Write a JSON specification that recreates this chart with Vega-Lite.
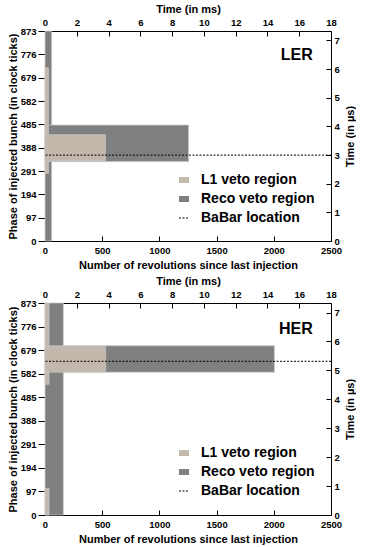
{
  "$schema": "https://vega.github.io/schema/vega-lite/v6.json",
  "padding": {"left": 7, "top": 3, "right": 0, "bottom": 0},
  "background": "white",
  "config": {
    "view": {"stroke": null},
    "font": "Liberation Sans",
    "axis": {
      "grid": false, "domainColor": "black", "domainWidth": 1, "tickColor": "black", "tickWidth": 1,
      "labelFont": "Liberation Sans", "labelFontWeight": "bold", "labelFontSize": 9.5, "labelColor": "black",
      "titleFont": "Liberation Sans", "titleFontWeight": "bold", "titleFontSize": 11, "titleColor": "black",
      "labelFlush": false, "labelOverlap": false, "format": "d"
    },
    "legend": {
      "title": null, "orient": "none", "padding": 0,
      "labelFont": "Liberation Sans", "labelFontSize": 14, "labelFontWeight": "bold", "labelColor": "black",
      "rowPadding": 5, "labelOffset": 10, "symbolStrokeWidth": 1
    }
  },
  "spacing": 4,
  "resolve": {"scale": {"color": "independent", "strokeDash": "independent"}, "legend": {"color": "independent", "strokeDash": "independent"}},
  "vconcat": [
    {
      "width": 286, "height": 210,
      "layer": [
        {
          "layer": [
            {
              "data": {"values": [
                {"region": "Reco veto region", "x0": 0, "x1": 58, "p0": 0, "p1": 873},
                {"region": "Reco veto region", "x0": 0, "x1": 1255, "p0": 330, "p1": 482},
                {"region": "L1 veto region", "x0": 0, "x1": 30, "p0": 281, "p1": 720},
                {"region": "L1 veto region", "x0": 0, "x1": 528, "p0": 333, "p1": 442}
              ]},
              "mark": {"type": "rect", "stroke": "#c8c8c8", "strokeWidth": 0.7, "opacity": 1},
              "encoding": {
                "x": {"field": "x0", "type": "quantitative", "scale": {"domain": [0, 2500], "nice": false},
                  "axis": {"orient": "bottom", "values": [0, 500, 1000, 1500, 2000, 2500], "tickCount": 30, "format": "d", "labelOverlap": false, "tickSize": -5, "labelPadding": 9, "title": "Number of revolutions since last injection", "titlePadding": 5}},
                "x2": {"field": "x1"},
                "y": {"field": "p0", "type": "quantitative", "scale": {"domain": [0, 873], "nice": false},
                  "axis": {"orient": "left", "values": [0, 97, 194, 291, 388, 485, 582, 679, 776, 873], "tickCount": 30, "format": "d", "labelOverlap": false, "tickSize": 7, "labelPadding": 2, "title": "Phase of injected bunch (in clock ticks)", "titlePadding": 2}},
                "y2": {"field": "p1"},
                "color": {"field": "region", "type": "nominal",
                  "scale": {"domain": ["L1 veto region", "Reco veto region"], "range": ["#c4b8ac", "#808080"]},
                  "legend": {"legendX": 132, "legendY": 142, "symbolSize": 100, "symbolType": "M-1,-0.6H1V0.6H-1Z", "symbolStrokeColor": "transparent"}}
              }
            },
            {
              "data": {"values": [{"region": "BaBar location", "p": 357}]},
              "mark": {"type": "rule", "strokeWidth": 1, "color": "black"},
              "encoding": {
                "y": {"field": "p", "type": "quantitative"},
                "strokeDash": {"field": "region", "type": "nominal",
                  "scale": {"domain": ["BaBar location"], "range": [[2, 1.5]]},
                  "legend": {"legendX": 132, "legendY": 180, "symbolSize": 100, "symbolType": "M-1,0H1", "symbolStrokeColor": "black", "symbolFillColor": "transparent"}}
              }
            },
            {
              "data": {"values": [{"label": "LER"}]},
              "mark": {"type": "text", "align": "right", "baseline": "alphabetic", "fontSize": 16, "fontWeight": "bold", "font": "Liberation Sans", "color": "black"},
              "encoding": {
                "text": {"field": "label"},
                "x": {"datum": 2340, "type": "quantitative"},
                "y": {"datum": 752, "type": "quantitative"}
              }
            }
          ]
        },
        {
          "data": {"values": [{"ms": 0, "us": 0}, {"ms": 18, "us": 7.33}]},
          "mark": {"type": "point", "opacity": 0},
          "encoding": {
            "x": {"field": "ms", "type": "quantitative", "scale": {"domain": [0, 18], "nice": false},
              "axis": {"orient": "top", "values": [0, 2, 4, 6, 8, 10, 12, 14, 16, 18], "tickCount": 30, "labelOverlap": false, "tickSize": -5, "labelPadding": 9, "title": "Time (in ms)", "titlePadding": 3}},
            "y": {"field": "us", "type": "quantitative", "scale": {"domain": [0, 7.33], "nice": false},
              "axis": {"orient": "right", "values": [0, 1, 2, 3, 4, 5, 6, 7], "tickCount": 30, "labelOverlap": false, "tickSize": -5, "labelPadding": 8, "title": "Time (in µs)", "titleAngle": -90, "titleBaseline": "top", "titlePadding": 5}}
          }
        }
      ],
      "resolve": {"scale": {"x": "independent", "y": "independent"}}
    },
    {
      "width": 286, "height": 212,
      "layer": [
        {
          "layer": [
            {
              "data": {"values": [
                {"region": "Reco veto region", "x0": 0, "x1": 160, "p0": 0, "p1": 873},
                {"region": "Reco veto region", "x0": 0, "x1": 2005, "p0": 588, "p1": 697},
                {"region": "L1 veto region", "x0": 0, "x1": 35, "p0": 538, "p1": 873},
                {"region": "L1 veto region", "x0": 0, "x1": 35, "p0": 0, "p1": 110},
                {"region": "L1 veto region", "x0": 0, "x1": 530, "p0": 590, "p1": 695}
              ]},
              "mark": {"type": "rect", "stroke": "#c8c8c8", "strokeWidth": 0.7, "opacity": 1},
              "encoding": {
                "x": {"field": "x0", "type": "quantitative", "scale": {"domain": [0, 2500], "nice": false},
                  "axis": {"orient": "bottom", "values": [0, 500, 1000, 1500, 2000, 2500], "tickCount": 30, "format": "d", "labelOverlap": false, "tickSize": -5, "labelPadding": 9, "title": "Number of revolutions since last injection", "titlePadding": 5}},
                "x2": {"field": "x1"},
                "y": {"field": "p0", "type": "quantitative", "scale": {"domain": [0, 873], "nice": false},
                  "axis": {"orient": "left", "values": [0, 97, 194, 291, 388, 485, 582, 679, 776, 873], "tickCount": 30, "format": "d", "labelOverlap": false, "tickSize": 7, "labelPadding": 2, "title": "Phase of injected bunch (in clock ticks)", "titlePadding": 2}},
                "y2": {"field": "p1"},
                "color": {"field": "region", "type": "nominal",
                  "scale": {"domain": ["L1 veto region", "Reco veto region"], "range": ["#c4b8ac", "#808080"]},
                  "legend": {"legendX": 132, "legendY": 143, "symbolSize": 100, "symbolType": "M-1,-0.6H1V0.6H-1Z", "symbolStrokeColor": "transparent"}}
              }
            },
            {
              "data": {"values": [{"region": "BaBar location", "p": 633}]},
              "mark": {"type": "rule", "strokeWidth": 1, "color": "black"},
              "encoding": {
                "y": {"field": "p", "type": "quantitative"},
                "strokeDash": {"field": "region", "type": "nominal",
                  "scale": {"domain": ["BaBar location"], "range": [[2, 1.5]]},
                  "legend": {"legendX": 132, "legendY": 181, "symbolSize": 100, "symbolType": "M-1,0H1", "symbolStrokeColor": "black", "symbolFillColor": "transparent"}}
              }
            },
            {
              "data": {"values": [{"label": "HER"}]},
              "mark": {"type": "text", "align": "right", "baseline": "alphabetic", "fontSize": 16, "fontWeight": "bold", "font": "Liberation Sans", "color": "black"},
              "encoding": {
                "text": {"field": "label"},
                "x": {"datum": 2340, "type": "quantitative"},
                "y": {"datum": 745, "type": "quantitative"}
              }
            }
          ]
        },
        {
          "data": {"values": [{"ms": 0, "us": 0}, {"ms": 18, "us": 7.33}]},
          "mark": {"type": "point", "opacity": 0},
          "encoding": {
            "x": {"field": "ms", "type": "quantitative", "scale": {"domain": [0, 18], "nice": false},
              "axis": {"orient": "top", "values": [0, 2, 4, 6, 8, 10, 12, 14, 16, 18], "tickCount": 30, "labelOverlap": false, "tickSize": -5, "labelPadding": 9, "title": "Time (in ms)", "titlePadding": 3}},
            "y": {"field": "us", "type": "quantitative", "scale": {"domain": [0, 7.33], "nice": false},
              "axis": {"orient": "right", "values": [0, 1, 2, 3, 4, 5, 6, 7], "tickCount": 30, "labelOverlap": false, "tickSize": -5, "labelPadding": 8, "title": "Time (in µs)", "titleAngle": -90, "titleBaseline": "top", "titlePadding": 5}}
          }
        }
      ],
      "resolve": {"scale": {"x": "independent", "y": "independent"}}
    }
  ]
}
